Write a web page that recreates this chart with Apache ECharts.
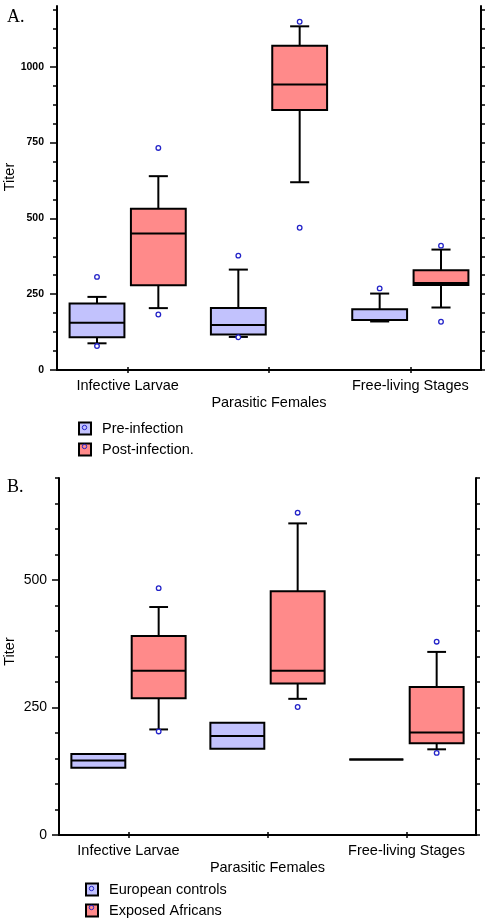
<!DOCTYPE html>
<html>
<head>
<meta charset="utf-8">
<script src="https://cdn.jsdelivr.net/npm/echarts@6/dist/echarts.min.js"></script>
<style>
html,body{margin:0;padding:0;background:#fff;}
#chart{width:488px;height:920px;}
</style>
</head>
<body>
<div id="chart"></div>
<script>
// ---------- DATA ----------
const categories = ['Infective Larvae', 'Parasitic Females', 'Free-living Stages'];

// Panel A  — each entry: [min, Q1, median, Q3, max]
const preInfection  = [[88, 108, 156, 219, 241], [109, 117, 148, 204, 331], [160, 165, 165, 200, 252]];
const preInfectionOutliers  = [[307, 79], [377, 108], [269]];
const postInfection = [[204, 279, 450, 532, 639], [619, 857, 941, 1069, 1133], [206, 280, 287, 329, 397]];
const postInfectionOutliers = [[183, 732], [469, 1148], [159, 410]];
const ticksA = [0, 250, 500, 750, 1000];

// Panel B
const europeanControls = [[132, 132, 146, 159, 159], [169, 169, 194, 220, 220], [148, 148, 148, 148, 148]];
const europeanOutliers = [[], [], []];
const exposedAfricans  = [[207, 268, 322, 390, 447], [267, 297, 322, 478, 611], [168, 180, 201, 290, 359]];
const exposedOutliers  = [[203, 484], [251, 632], [161, 379]];
const ticksB = [0, 250, 500];

// ---------- STYLE ----------
const BLUE_FILL = '#c2c2fd';
const RED_FILL = '#ff8a8a';
const DOT = '#2323c8';
const FONT = "'Liberation Sans', Arial, sans-serif";

function boxData(stats) { return stats.map((s, i) => [i].concat(s)); }
function outlierData(list) {
  const out = [];
  list.forEach((vals, i) => vals.forEach(v => out.push([i, v])));
  return out;
}

function makeBoxRender(side, fill) {
  return function (params, api) {
    const cat = api.value(0);
    const band = api.size([1, 0])[0];
    const cx = api.coord([cat, 0])[0] + side * 0.217 * band;
    const bw = 0.388 * band;
    const cw = 0.135 * band;
    const y = v => api.coord([cat, v])[1];
    const mn = api.value(1), q1 = api.value(2), md = api.value(3), q3 = api.value(4), mx = api.value(5);
    const ls = { stroke: '#000', lineWidth: 2, fill: null };
    const children = [];
    if (mx > q3) {
      children.push({ type: 'line', shape: { x1: cx, y1: y(q3), x2: cx, y2: y(mx) }, style: ls });
      children.push({ type: 'line', shape: { x1: cx - cw / 2, y1: y(mx), x2: cx + cw / 2, y2: y(mx) }, style: ls });
    }
    if (mn < q1) {
      children.push({ type: 'line', shape: { x1: cx, y1: y(q1), x2: cx, y2: y(mn) }, style: ls });
      children.push({ type: 'line', shape: { x1: cx - cw / 2, y1: y(mn), x2: cx + cw / 2, y2: y(mn) }, style: ls });
    }
    children.push({ type: 'rect', shape: { x: cx - bw / 2, y: y(q3), width: bw, height: y(q1) - y(q3) },
      style: { fill: fill, stroke: '#000', lineWidth: 2 } });
    children.push({ type: 'line', shape: { x1: cx - bw / 2, y1: y(md), x2: cx + bw / 2, y2: y(md) }, style: ls });
    return { type: 'group', children: children };
  };
}
function makeDotRender(side) {
  return function (params, api) {
    const cat = api.value(0);
    const band = api.size([1, 0])[0];
    const p = api.coord([cat, api.value(1)]);
    return { type: 'circle', shape: { cx: p[0] + side * 0.217 * band, cy: p[1], r: 2.3 },
      style: { fill: '#fff', stroke: DOT, lineWidth: 1.3 } };
  };
}

function panelAxes(gi, max, majorTicks, minorStep, bold, labelSize, nameGap, namePad) {
  const minor = [];
  for (let v = 0; v <= max + 1e-9; v += minorStep) minor.push(+v.toFixed(3));
  const xBottom = {
    type: 'category', gridIndex: gi, data: categories, position: 'bottom',
    axisLine: { lineStyle: { color: '#000', width: 2 } },
    axisTick: { show: true, alignWithLabel: true, length: 3, lineStyle: { color: '#000', width: 1.5 } },
    axisLabel: {
      interval: 0, hideOverlap: false,
      color: '#000', fontFamily: FONT, fontSize: 14.5, margin: 7, lineHeight: 17,
      formatter: (v, i) => (i === 1 ? '\n' + v : v)
    },
    splitLine: { show: false }
  };
  const xTop = {
    type: 'category', gridIndex: gi, data: categories, position: 'top',
    axisLine: { lineStyle: { color: '#000', width: 2 } },
    axisTick: { show: true, alignWithLabel: true, length: 3, lineStyle: { color: '#000', width: 1.5 } },
    axisLabel: { show: false }, splitLine: { show: false }
  };
  const yMain = {
    type: 'value', gridIndex: gi, min: 0, max: max, position: 'left',
    name: 'Titer', nameLocation: 'middle', nameGap: nameGap, nameRotate: 90, nameMoveOverlap: false,
    nameTextStyle: { color: '#000', fontFamily: FONT, fontSize: 14.5, padding: namePad },
    axisLine: { show: true, lineStyle: { color: '#000', width: 2 } },
    axisTick: { show: true, length: 7, customValues: majorTicks, lineStyle: { color: '#000', width: 1.5 } },
    axisLabel: { customValues: majorTicks, color: '#000', fontFamily: FONT, fontSize: labelSize,
      fontWeight: bold ? 'bold' : 'normal', margin: bold ? 13 : 12, formatter: v => String(v) },
    splitLine: { show: false }
  };
  const yMinor = {
    type: 'value', gridIndex: gi, min: 0, max: max, position: 'left',
    axisLine: { show: false },
    axisTick: { show: true, length: 4, customValues: minor, lineStyle: { color: '#000', width: 1.5 } },
    axisLabel: { show: false }, splitLine: { show: false }
  };
  const yRight = {
    type: 'value', gridIndex: gi, min: 0, max: max, position: 'right',
    axisLine: { show: true, lineStyle: { color: '#000', width: 2 } },
    axisTick: { show: true, length: 4, customValues: minor, lineStyle: { color: '#000', width: 1.5 } },
    axisLabel: { show: false }, splitLine: { show: false }
  };
  return { x: [xBottom, xTop], y: [yMain, yMinor, yRight] };
}

const A = panelAxes(0, 1200, ticksA, 62.5, true, 10.5, 40, [0, 0, 0, 22]);
const B = panelAxes(1, 700, ticksB, 50, false, 14, 42, [0, 0, 0, 10]);

function boxSeries(name, stats, outliers, xi, yi, side, fill) {
  return [
    { name: name, type: 'custom', xAxisIndex: xi, yAxisIndex: yi, data: boxData(stats),
      renderItem: makeBoxRender(side, fill), itemStyle: { color: fill }, clip: false },
    { name: name, type: 'custom', xAxisIndex: xi, yAxisIndex: yi, data: outlierData(outliers),
      renderItem: makeDotRender(side), itemStyle: { color: fill }, clip: false, z: 5 }
  ];
}

// small ring centred in a 12x12 icon box (corner move-to points fix the box)
const RING_ICON = 'path://M0,0M12,12M6,3.8A2.2,2.2,0,1,1,5.99,3.8Z';

function legendPair(names, fills, left, top) {
  const common = { orient: 'vertical', left: left, top: top, width: 200, height: 60,
    itemWidth: 12, itemHeight: 12, itemGap: 6, selectedMode: false };
  return [
    Object.assign({}, common, { icon: 'rect',
      data: names.map((n, i) => ({ name: n, itemStyle: { color: fills[i], borderColor: '#000', borderWidth: 2 } })),
      textStyle: { color: '#000', fontFamily: FONT, fontSize: 14.5, padding: [0, 0, 0, 6] } }),
    Object.assign({}, common, { icon: RING_ICON, formatter: () => '',
      data: names.map(n => ({ name: n, itemStyle: { color: 'rgba(0,0,0,0)', borderColor: DOT, borderWidth: 1 } })),
      textStyle: { color: '#000', fontFamily: FONT, fontSize: 14.5 } })
  ];
}

const option = {
  backgroundColor: '#fff',
  animation: false,
  title: [
    { text: 'A.', left: 2, top: 3, textStyle: { fontFamily: "'Liberation Serif', 'Times New Roman', serif", fontWeight: 'normal', fontSize: 18, color: '#000' } },
    { text: 'B.', left: 2, top: 473, textStyle: { fontFamily: "'Liberation Serif', 'Times New Roman', serif", fontWeight: 'normal', fontSize: 18, color: '#000' } }
  ],
  grid: [
    { left: 57, top: 6, width: 424, height: 364, outerBoundsMode: 'none', containLabel: false },
    { left: 59, top: 478, width: 417, height: 357, outerBoundsMode: 'none', containLabel: false }
  ],
  xAxis: [A.x[0], A.x[1], B.x[0], B.x[1]],
  yAxis: [A.y[0], A.y[1], A.y[2], B.y[0], B.y[1], B.y[2]],
  legend: legendPair(['Pre-infection', 'Post-infection.'], [BLUE_FILL, RED_FILL], 73, 416)
    .concat(legendPair(['European controls', 'Exposed Africans'], [BLUE_FILL, RED_FILL], 80, 877)),
  series: [].concat(
    boxSeries('Pre-infection', preInfection, preInfectionOutliers, 0, 0, -1, BLUE_FILL),
    boxSeries('Post-infection.', postInfection, postInfectionOutliers, 0, 0, 1, RED_FILL),
    boxSeries('European controls', europeanControls, europeanOutliers, 2, 3, -1, BLUE_FILL),
    boxSeries('Exposed Africans', exposedAfricans, exposedOutliers, 2, 3, 1, RED_FILL)
  )
};

const chart = echarts.init(document.getElementById('chart'), null, { renderer: 'canvas' });
chart.setOption(option);
</script>
</body>
</html>
